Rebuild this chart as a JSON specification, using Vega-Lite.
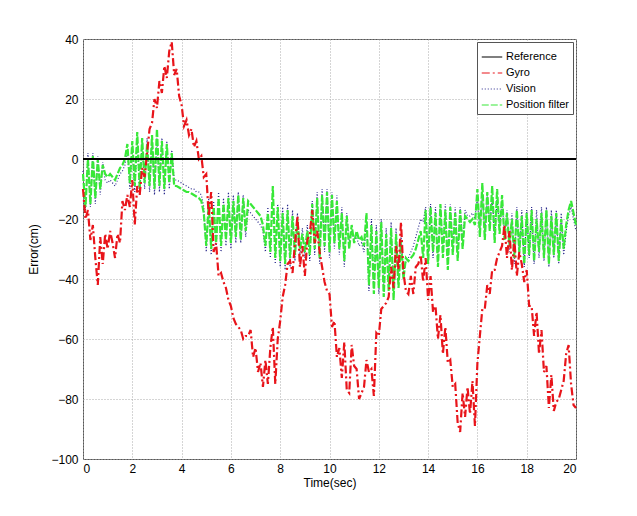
{
"$schema": "https://vega.github.io/schema/vega-lite/v6.json",
"width": 493, "height": 420,
"autosize": "none",
"padding": {"left": 83, "top": 39, "right": 61, "bottom": 57},
"background": "white",
"config": {
  "view": {"stroke": "#555", "strokeWidth": 1},
  "axis": {"labelFont": "Liberation Sans", "titleFont": "Liberation Sans", "labelFontSize": 12, "titleFontSize": 12, "titleFontWeight": "normal", "labelColor": "#000", "titleColor": "#000", "grid": true, "gridColor": "#aaa", "gridDash": [1, 2], "gridOpacity": 1, "domain": false, "ticks": false}
},
"data": {"values": [
{"t":0.0,"Reference":0,"Gyro":-10,"Vision":-4,"Position filter":-5},
{"t":0.1,"Reference":0,"Gyro":-20,"Vision":-17,"Position filter":-16},
{"t":0.2,"Reference":0,"Gyro":-17,"Vision":2,"Position filter":0},
{"t":0.3,"Reference":0,"Gyro":-27,"Vision":-16,"Position filter":-15},
{"t":0.4,"Reference":0,"Gyro":-22,"Vision":2,"Position filter":1},
{"t":0.5,"Reference":0,"Gyro":-33,"Vision":-15,"Position filter":-13},
{"t":0.6,"Reference":0,"Gyro":-42,"Vision":1,"Position filter":0},
{"t":0.7,"Reference":0,"Gyro":-26,"Vision":-12,"Position filter":-10},
{"t":0.8,"Reference":0,"Gyro":-35,"Vision":-1,"Position filter":-2},
{"t":0.9,"Reference":0,"Gyro":-25,"Vision":-7,"Position filter":-5},
{"t":1.0,"Reference":0,"Gyro":-30,"Vision":-8,"Position filter":-6},
{"t":1.1,"Reference":0,"Gyro":-24,"Vision":-7,"Position filter":-5},
{"t":1.2,"Reference":0,"Gyro":-28,"Vision":-8,"Position filter":-6},
{"t":1.3,"Reference":0,"Gyro":-33,"Vision":-9,"Position filter":-7},
{"t":1.4,"Reference":0,"Gyro":-25,"Vision":-7,"Position filter":-5},
{"t":1.5,"Reference":0,"Gyro":-28,"Vision":-5,"Position filter":-3},
{"t":1.6,"Reference":0,"Gyro":-14,"Vision":-4,"Position filter":-2},
{"t":1.7,"Reference":0,"Gyro":-17,"Vision":-2,"Position filter":0},
{"t":1.8,"Reference":0,"Gyro":-12,"Vision":3,"Position filter":5},
{"t":1.9,"Reference":0,"Gyro":-16,"Vision":-10,"Position filter":-8},
{"t":2.0,"Reference":0,"Gyro":-7,"Vision":4,"Position filter":6},
{"t":2.1,"Reference":0,"Gyro":-22,"Vision":-11,"Position filter":-9},
{"t":2.2,"Reference":0,"Gyro":-9,"Vision":7,"Position filter":9},
{"t":2.3,"Reference":0,"Gyro":-12,"Vision":-12,"Position filter":-10},
{"t":2.4,"Reference":0,"Gyro":-3,"Vision":6,"Position filter":7},
{"t":2.5,"Reference":0,"Gyro":-6,"Vision":-10,"Position filter":-8},
{"t":2.6,"Reference":0,"Gyro":2,"Vision":7,"Position filter":5},
{"t":2.7,"Reference":0,"Gyro":10,"Vision":-11,"Position filter":-9},
{"t":2.8,"Reference":0,"Gyro":12,"Vision":6,"Position filter":8},
{"t":2.9,"Reference":0,"Gyro":20,"Vision":-12,"Position filter":-10},
{"t":3.0,"Reference":0,"Gyro":17,"Vision":7,"Position filter":10},
{"t":3.1,"Reference":0,"Gyro":26,"Vision":-11,"Position filter":-9},
{"t":3.2,"Reference":0,"Gyro":22,"Vision":7,"Position filter":6},
{"t":3.3,"Reference":0,"Gyro":31,"Vision":-12,"Position filter":-10},
{"t":3.4,"Reference":0,"Gyro":27,"Vision":6,"Position filter":5},
{"t":3.5,"Reference":0,"Gyro":36,"Vision":-10,"Position filter":-8},
{"t":3.6,"Reference":0,"Gyro":39,"Vision":3,"Position filter":2},
{"t":3.7,"Reference":0,"Gyro":28,"Vision":-7,"Position filter":-9},
{"t":3.8,"Reference":0,"Gyro":30,"Vision":-7,"Position filter":-9},
{"t":3.9,"Reference":0,"Gyro":21,"Vision":-7.5,"Position filter":-9.5},
{"t":4.0,"Reference":0,"Gyro":18,"Vision":-8,"Position filter":-10},
{"t":4.1,"Reference":0,"Gyro":11,"Vision":-8.5,"Position filter":-10.5},
{"t":4.2,"Reference":0,"Gyro":13,"Vision":-9,"Position filter":-11},
{"t":4.3,"Reference":0,"Gyro":8,"Vision":-9.5,"Position filter":-11},
{"t":4.4,"Reference":0,"Gyro":10,"Vision":-10,"Position filter":-11.5},
{"t":4.5,"Reference":0,"Gyro":4,"Vision":-10,"Position filter":-12},
{"t":4.6,"Reference":0,"Gyro":6,"Vision":-11,"Position filter":-12.5},
{"t":4.7,"Reference":0,"Gyro":0,"Vision":-11,"Position filter":-13},
{"t":4.8,"Reference":0,"Gyro":1,"Vision":-12,"Position filter":-14},
{"t":4.9,"Reference":0,"Gyro":-6,"Vision":-16,"Position filter":-18},
{"t":5.0,"Reference":0,"Gyro":-5,"Vision":-31,"Position filter":-29},
{"t":5.1,"Reference":0,"Gyro":-19,"Vision":-13,"Position filter":-15},
{"t":5.2,"Reference":0,"Gyro":-11,"Vision":-32,"Position filter":-30},
{"t":5.3,"Reference":0,"Gyro":-31,"Vision":-14,"Position filter":-16},
{"t":5.4,"Reference":0,"Gyro":-28,"Vision":-30,"Position filter":-28},
{"t":5.5,"Reference":0,"Gyro":-39,"Vision":-11,"Position filter":-13},
{"t":5.6,"Reference":0,"Gyro":-38,"Vision":-31,"Position filter":-29},
{"t":5.7,"Reference":0,"Gyro":-41,"Vision":-13,"Position filter":-15},
{"t":5.8,"Reference":0,"Gyro":-43,"Vision":-29,"Position filter":-27},
{"t":5.9,"Reference":0,"Gyro":-47,"Vision":-11,"Position filter":-13},
{"t":6.0,"Reference":0,"Gyro":-49,"Vision":-30,"Position filter":-28},
{"t":6.1,"Reference":0,"Gyro":-53,"Vision":-12,"Position filter":-14},
{"t":6.2,"Reference":0,"Gyro":-55,"Vision":-28,"Position filter":-26},
{"t":6.3,"Reference":0,"Gyro":-56,"Vision":-11,"Position filter":-12},
{"t":6.4,"Reference":0,"Gyro":-57,"Vision":-28,"Position filter":-27},
{"t":6.5,"Reference":0,"Gyro":-60,"Vision":-12,"Position filter":-13},
{"t":6.6,"Reference":0,"Gyro":-59,"Vision":-26,"Position filter":-24},
{"t":6.7,"Reference":0,"Gyro":-59,"Vision":-17,"Position filter":-14},
{"t":6.8,"Reference":0,"Gyro":-57,"Vision":-18,"Position filter":-15},
{"t":6.9,"Reference":0,"Gyro":-66,"Vision":-19,"Position filter":-16},
{"t":7.0,"Reference":0,"Gyro":-63,"Vision":-20,"Position filter":-17},
{"t":7.1,"Reference":0,"Gyro":-71,"Vision":-21,"Position filter":-18},
{"t":7.2,"Reference":0,"Gyro":-68,"Vision":-22,"Position filter":-19},
{"t":7.3,"Reference":0,"Gyro":-76,"Vision":-24,"Position filter":-22},
{"t":7.4,"Reference":0,"Gyro":-67,"Vision":-31,"Position filter":-29},
{"t":7.5,"Reference":0,"Gyro":-75,"Vision":-16,"Position filter":-18},
{"t":7.6,"Reference":0,"Gyro":-63,"Vision":-33,"Position filter":-31},
{"t":7.7,"Reference":0,"Gyro":-56,"Vision":-12,"Position filter":-9},
{"t":7.8,"Reference":0,"Gyro":-75,"Vision":-35,"Position filter":-33},
{"t":7.9,"Reference":0,"Gyro":-60,"Vision":-15,"Position filter":-16},
{"t":8.0,"Reference":0,"Gyro":-54,"Vision":-36,"Position filter":-34},
{"t":8.1,"Reference":0,"Gyro":-46,"Vision":-16,"Position filter":-18},
{"t":8.2,"Reference":0,"Gyro":-42,"Vision":-37,"Position filter":-35},
{"t":8.3,"Reference":0,"Gyro":-35,"Vision":-15,"Position filter":-17},
{"t":8.4,"Reference":0,"Gyro":-34,"Vision":-36,"Position filter":-33},
{"t":8.5,"Reference":0,"Gyro":-38,"Vision":-17,"Position filter":-19},
{"t":8.6,"Reference":0,"Gyro":-28,"Vision":-34,"Position filter":-32},
{"t":8.7,"Reference":0,"Gyro":-19,"Vision":-18,"Position filter":-20},
{"t":8.8,"Reference":0,"Gyro":-36,"Vision":-32,"Position filter":-30},
{"t":8.9,"Reference":0,"Gyro":-29,"Vision":-23,"Position filter":-25},
{"t":9.0,"Reference":0,"Gyro":-39,"Vision":-33,"Position filter":-31},
{"t":9.1,"Reference":0,"Gyro":-27,"Vision":-22,"Position filter":-24},
{"t":9.2,"Reference":0,"Gyro":-25,"Vision":-34,"Position filter":-32},
{"t":9.3,"Reference":0,"Gyro":-17,"Vision":-14,"Position filter":-15},
{"t":9.4,"Reference":0,"Gyro":-28,"Vision":-32,"Position filter":-30},
{"t":9.5,"Reference":0,"Gyro":-24,"Vision":-11,"Position filter":-13},
{"t":9.6,"Reference":0,"Gyro":-31,"Vision":-35,"Position filter":-33},
{"t":9.7,"Reference":0,"Gyro":-36,"Vision":-10,"Position filter":-12},
{"t":9.8,"Reference":0,"Gyro":-41,"Vision":-31,"Position filter":-29},
{"t":9.9,"Reference":0,"Gyro":-44,"Vision":-10,"Position filter":-11},
{"t":10.0,"Reference":0,"Gyro":-45,"Vision":-33,"Position filter":-31},
{"t":10.1,"Reference":0,"Gyro":-56,"Vision":-11,"Position filter":-12},
{"t":10.2,"Reference":0,"Gyro":-54,"Vision":-30,"Position filter":-28},
{"t":10.3,"Reference":0,"Gyro":-66,"Vision":-12,"Position filter":-14},
{"t":10.4,"Reference":0,"Gyro":-63,"Vision":-32,"Position filter":-30},
{"t":10.5,"Reference":0,"Gyro":-73,"Vision":-16,"Position filter":-18},
{"t":10.6,"Reference":0,"Gyro":-61,"Vision":-36,"Position filter":-34},
{"t":10.7,"Reference":0,"Gyro":-77,"Vision":-18,"Position filter":-19},
{"t":10.8,"Reference":0,"Gyro":-78,"Vision":-28,"Position filter":-30},
{"t":10.9,"Reference":0,"Gyro":-62,"Vision":-24,"Position filter":-22},
{"t":11.0,"Reference":0,"Gyro":-69,"Vision":-27,"Position filter":-28},
{"t":11.1,"Reference":0,"Gyro":-70,"Vision":-26,"Position filter":-24},
{"t":11.2,"Reference":0,"Gyro":-80,"Vision":-29,"Position filter":-27},
{"t":11.3,"Reference":0,"Gyro":-78,"Vision":-28,"Position filter":-26},
{"t":11.4,"Reference":0,"Gyro":-76,"Vision":-31,"Position filter":-29},
{"t":11.5,"Reference":0,"Gyro":-67,"Vision":-20,"Position filter":-18},
{"t":11.6,"Reference":0,"Gyro":-71,"Vision":-44,"Position filter":-42},
{"t":11.7,"Reference":0,"Gyro":-70,"Vision":-20,"Position filter":-22},
{"t":11.8,"Reference":0,"Gyro":-79,"Vision":-43,"Position filter":-45},
{"t":11.9,"Reference":0,"Gyro":-58,"Vision":-22,"Position filter":-24},
{"t":12.0,"Reference":0,"Gyro":-59,"Vision":-45,"Position filter":-43},
{"t":12.1,"Reference":0,"Gyro":-50,"Vision":-20,"Position filter":-21},
{"t":12.2,"Reference":0,"Gyro":-49,"Vision":-44,"Position filter":-46},
{"t":12.3,"Reference":0,"Gyro":-48,"Vision":-23,"Position filter":-25},
{"t":12.4,"Reference":0,"Gyro":-46,"Vision":-42,"Position filter":-44},
{"t":12.5,"Reference":0,"Gyro":-36,"Vision":-21,"Position filter":-23},
{"t":12.6,"Reference":0,"Gyro":-43,"Vision":-45,"Position filter":-47},
{"t":12.7,"Reference":0,"Gyro":-29,"Vision":-23,"Position filter":-25},
{"t":12.8,"Reference":0,"Gyro":-37,"Vision":-41,"Position filter":-43},
{"t":12.9,"Reference":0,"Gyro":-21,"Vision":-26,"Position filter":-27},
{"t":13.0,"Reference":0,"Gyro":-38,"Vision":-38,"Position filter":-40},
{"t":13.1,"Reference":0,"Gyro":-44,"Vision":-34,"Position filter":-33},
{"t":13.2,"Reference":0,"Gyro":-45,"Vision":-33,"Position filter":-34},
{"t":13.3,"Reference":0,"Gyro":-39,"Vision":-31,"Position filter":-33},
{"t":13.4,"Reference":0,"Gyro":-45,"Vision":-29,"Position filter":-32},
{"t":13.5,"Reference":0,"Gyro":-36,"Vision":-26,"Position filter":-30},
{"t":13.6,"Reference":0,"Gyro":-35,"Vision":-23,"Position filter":-27},
{"t":13.7,"Reference":0,"Gyro":-32,"Vision":-20,"Position filter":-24},
{"t":13.8,"Reference":0,"Gyro":-41,"Vision":-21,"Position filter":-33},
{"t":13.9,"Reference":0,"Gyro":-33,"Vision":-16,"Position filter":-17},
{"t":14.0,"Reference":0,"Gyro":-47,"Vision":-33,"Position filter":-35},
{"t":14.1,"Reference":0,"Gyro":-39,"Vision":-15,"Position filter":-16},
{"t":14.2,"Reference":0,"Gyro":-51,"Vision":-33,"Position filter":-31},
{"t":14.3,"Reference":0,"Gyro":-49,"Vision":-16,"Position filter":-18},
{"t":14.4,"Reference":0,"Gyro":-60,"Vision":-34,"Position filter":-36},
{"t":14.5,"Reference":0,"Gyro":-52,"Vision":-15,"Position filter":-15},
{"t":14.6,"Reference":0,"Gyro":-65,"Vision":-31,"Position filter":-33},
{"t":14.7,"Reference":0,"Gyro":-56,"Vision":-15,"Position filter":-17},
{"t":14.8,"Reference":0,"Gyro":-68,"Vision":-35,"Position filter":-37},
{"t":14.9,"Reference":0,"Gyro":-67,"Vision":-15,"Position filter":-16},
{"t":15.0,"Reference":0,"Gyro":-76,"Vision":-30,"Position filter":-32},
{"t":15.1,"Reference":0,"Gyro":-75,"Vision":-16,"Position filter":-18},
{"t":15.2,"Reference":0,"Gyro":-88,"Vision":-32,"Position filter":-34},
{"t":15.3,"Reference":0,"Gyro":-91,"Vision":-16,"Position filter":-17},
{"t":15.4,"Reference":0,"Gyro":-78,"Vision":-28,"Position filter":-30},
{"t":15.5,"Reference":0,"Gyro":-86,"Vision":-17,"Position filter":-19},
{"t":15.6,"Reference":0,"Gyro":-76,"Vision":-19,"Position filter":-20},
{"t":15.7,"Reference":0,"Gyro":-85,"Vision":-19,"Position filter":-21},
{"t":15.8,"Reference":0,"Gyro":-74,"Vision":-18,"Position filter":-20},
{"t":15.9,"Reference":0,"Gyro":-89,"Vision":-20,"Position filter":-22},
{"t":16.0,"Reference":0,"Gyro":-68,"Vision":-12,"Position filter":-10},
{"t":16.1,"Reference":0,"Gyro":-59,"Vision":-24,"Position filter":-26},
{"t":16.2,"Reference":0,"Gyro":-50,"Vision":-11,"Position filter":-8},
{"t":16.3,"Reference":0,"Gyro":-50,"Vision":-25,"Position filter":-27},
{"t":16.4,"Reference":0,"Gyro":-42,"Vision":-12,"Position filter":-11},
{"t":16.5,"Reference":0,"Gyro":-45,"Vision":-22,"Position filter":-24},
{"t":16.6,"Reference":0,"Gyro":-37,"Vision":-13,"Position filter":-9},
{"t":16.7,"Reference":0,"Gyro":-37,"Vision":-26,"Position filter":-28},
{"t":16.8,"Reference":0,"Gyro":-33,"Vision":-13,"Position filter":-10},
{"t":16.9,"Reference":0,"Gyro":-31,"Vision":-23,"Position filter":-25},
{"t":17.0,"Reference":0,"Gyro":-29,"Vision":-14,"Position filter":-12},
{"t":17.1,"Reference":0,"Gyro":-22,"Vision":-25,"Position filter":-27},
{"t":17.2,"Reference":0,"Gyro":-33,"Vision":-17,"Position filter":-18},
{"t":17.3,"Reference":0,"Gyro":-24,"Vision":-31,"Position filter":-29},
{"t":17.4,"Reference":0,"Gyro":-37,"Vision":-18,"Position filter":-20},
{"t":17.5,"Reference":0,"Gyro":-27,"Vision":-35,"Position filter":-33},
{"t":17.6,"Reference":0,"Gyro":-39,"Vision":-16,"Position filter":-17},
{"t":17.7,"Reference":0,"Gyro":-31,"Vision":-33,"Position filter":-31},
{"t":17.8,"Reference":0,"Gyro":-35,"Vision":-17,"Position filter":-19},
{"t":17.9,"Reference":0,"Gyro":-41,"Vision":-36,"Position filter":-35},
{"t":18.0,"Reference":0,"Gyro":-37,"Vision":-17,"Position filter":-18},
{"t":18.1,"Reference":0,"Gyro":-49,"Vision":-33,"Position filter":-32},
{"t":18.2,"Reference":0,"Gyro":-49,"Vision":-16,"Position filter":-17},
{"t":18.3,"Reference":0,"Gyro":-59,"Vision":-35,"Position filter":-34},
{"t":18.4,"Reference":0,"Gyro":-51,"Vision":-17,"Position filter":-20},
{"t":18.5,"Reference":0,"Gyro":-65,"Vision":-33,"Position filter":-31},
{"t":18.6,"Reference":0,"Gyro":-57,"Vision":-16,"Position filter":-18},
{"t":18.7,"Reference":0,"Gyro":-71,"Vision":-34,"Position filter":-33},
{"t":18.8,"Reference":0,"Gyro":-69,"Vision":-16,"Position filter":-17},
{"t":18.9,"Reference":0,"Gyro":-83,"Vision":-36,"Position filter":-35},
{"t":19.0,"Reference":0,"Gyro":-72,"Vision":-17,"Position filter":-19},
{"t":19.1,"Reference":0,"Gyro":-84,"Vision":-33,"Position filter":-32},
{"t":19.2,"Reference":0,"Gyro":-81,"Vision":-17,"Position filter":-18},
{"t":19.3,"Reference":0,"Gyro":-80,"Vision":-35,"Position filter":-34},
{"t":19.4,"Reference":0,"Gyro":-77,"Vision":-18,"Position filter":-20},
{"t":19.5,"Reference":0,"Gyro":-74,"Vision":-32,"Position filter":-30},
{"t":19.6,"Reference":0,"Gyro":-65,"Vision":-24,"Position filter":-22},
{"t":19.7,"Reference":0,"Gyro":-62,"Vision":-19,"Position filter":-17},
{"t":19.8,"Reference":0,"Gyro":-75,"Vision":-16,"Position filter":-14},
{"t":19.9,"Reference":0,"Gyro":-82,"Vision":-20,"Position filter":-18},
{"t":20.0,"Reference":0,"Gyro":-83,"Vision":-24,"Position filter":-22}
]},
"transform": [{"fold": ["Reference", "Gyro", "Vision", "Position filter"], "as": ["series", "value"]}],
"encoding": {
  "x": {"field": "t", "type": "quantitative", "scale": {"domain": [0, 20], "nice": false},
        "axis": {"values": [0, 2, 4, 6, 8, 10, 12, 14, 16, 18, 20], "title": "Time(sec)", "labelPadding": 4, "titlePadding": 3}},
  "y": {"field": "value", "type": "quantitative", "scale": {"domain": [-100, 40], "nice": false},
        "axis": {"values": [-100, -80, -60, -40, -20, 0, 20, 40], "title": "Error(cm)", "labelPadding": 5, "titlePadding": 10}},
  "color": {"field": "series", "type": "nominal",
    "scale": {"domain": ["Reference", "Gyro", "Vision", "Position filter"], "range": ["#000000", "#e8141a", "#2a2a8c", "#38e838"]},
    "legend": {"title": null, "orient": "top-right", "offset": 3, "fillColor": "white", "strokeColor": "#555", "padding": 4, "symbolType": "stroke", "symbolSize": 420, "symbolStrokeWidth": 1.2, "labelFont": "Liberation Sans", "labelFontSize": 11, "labelColor": "#000", "rowPadding": -6, "labelOffset": 3}},
  "strokeDash": {"field": "series", "type": "nominal",
    "scale": {"domain": ["Reference", "Gyro", "Vision", "Position filter"], "range": [[1, 0], [8, 3, 2, 3], [1, 2], [7, 2]]},
    "legend": {"title": null, "orient": "top-right", "offset": 3, "fillColor": "white", "strokeColor": "#555", "padding": 4, "symbolType": "stroke", "symbolSize": 420, "symbolStrokeWidth": 1.2, "labelFont": "Liberation Sans", "labelFontSize": 11, "labelColor": "#000", "rowPadding": -6, "labelOffset": 3}}
},
"layer": [
  {"transform": [{"filter": {"field": "series", "equal": "Vision"}}], "mark": {"type": "line", "strokeWidth": 1.2}},
  {"transform": [{"filter": {"field": "series", "equal": "Position filter"}}], "mark": {"type": "line", "strokeWidth": 2.2}},
  {"transform": [{"filter": {"field": "series", "equal": "Gyro"}}], "mark": {"type": "line", "strokeWidth": 2.2}},
  {"transform": [{"filter": {"field": "series", "equal": "Reference"}}], "mark": {"type": "line", "strokeWidth": 2}}
]
}
